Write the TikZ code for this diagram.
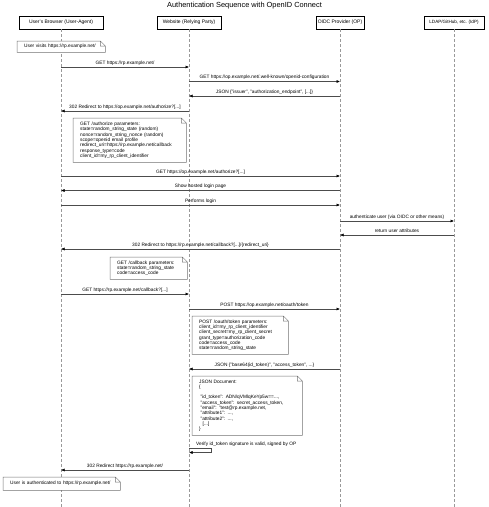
\documentclass[tikz,border=0pt]{standalone}
\usepackage{fontspec}
\setmainfont{Liberation Sans}
\usetikzlibrary{arrows.meta}
\tikzset{
  actor/.style={draw=black, line width=0.6pt, fill=white, font=\fontsize{5}{6}\selectfont, minimum height=13pt, inner sep=0pt},
  life/.style={draw=black!40, dash pattern=on 3pt off 2pt, line width=0.5pt},
  msg/.style={draw=black!70, line width=0.5pt, -{Latex[length=3.5pt,width=3pt,black]}},
  mlabel/.style={font=\fontsize{4.8}{5.3}\selectfont, anchor=base, inner sep=0pt},
  notebox/.style={anchor=north west, inner xsep=7pt, inner ysep=0pt, align=left, font=\fontsize{4.8}{5.3}\selectfont, fill=white},
  noteline/.style={draw=black!55, line width=0.5pt},
}
\newcommand\seqmsg[4]{\draw[msg] (#1 |- 0,#3) -- (#2 |- 0,#3) node[mlabel, midway, yshift=2.6pt] {#4};}
\begin{document}
\begin{tikzpicture}[x=1pt, y=-1pt]
\useasboundingbox[fill=white] (0,0) rectangle (489,507);
\node[font=\fontsize{7.4}{8}\selectfont] (title) at (244.5,5.5) {Authentication Sequence with OpenID Connect};

\coordinate (uaX) at (61,507);
\coordinate (rpX) at (189,507);
\coordinate (opX) at (340,507);
\coordinate (idpX) at (454,507);
\node[actor, minimum width=84pt] (ua) at (61,22.5) {User's Browser (User-Agent)};
\node[actor, minimum width=64pt] (rp) at (189,22.5) {Website (Relying Party)};
\node[actor, minimum width=48pt] (op) at (340,22.5) {OIDC Provider (OP)};
\node[actor, minimum width=60pt, font=\fontsize{4.6}{6}\selectfont] (idp) at (454,22.5) {LDAP/GitHub, etc. (IdP)};
\foreach \p in {ua,rp,op,idp} \draw[life] (\p.south) -- (\p X);

% notes
\node[notebox, text width=74pt, minimum height=11pt] (n1) at (17,41) {User visits https://rp.example.net/};
\node[notebox, text width=99pt, minimum height=44pt] (n2) at (73,118) {GET /authorize parameters:\\state=random\_string\_state (random)\\nonce=random\_string\_nonce (random)\\scope=openid email profile\\redirect\_uri=https://rp.example.net/callback\\response\_type=code\\client\_id=my\_rp\_client\_identifier};
\node[notebox, text width=63pt, minimum height=22pt] (n3) at (110,257) {GET /callback parameters:\\state=random\_string\_state\\code=access\_code};
\node[notebox, text width=82pt, minimum height=38pt] (n4) at (192,316) {POST /oauth/token parameters:\\client\_id=my\_rp\_client\_identifier\\client\_secret=my\_rp\_client\_secret\\grant\_type=authorization\_code\\code=access\_code\\state=random\_string\_state};
\node[notebox, text width=96pt, minimum height=59pt] (n5) at (192,376) {JSON Document:\\\{\\[5.3pt]\hspace{1.5pt}"id\_token": ADN/qVMlqKeYp5w==...,\\\hspace{1.5pt}"access\_token": secret\_access\_token,\\\hspace{1.5pt}"email": "test@rp.example.net,\\\hspace{1.5pt}"attribute1": ...,\\\hspace{1.5pt}"attribute2": ...,\\\hspace{3.5pt}[...]\\\}};
\node[notebox, text width=103pt, minimum height=13pt] (n6) at (3,477) {User is authenticated to https://rp.example.net/};
\foreach \n in {n1,n2,n3,n4,n5,n6}
  \draw[noteline] (\n.north west) -- ([xshift=-5pt]\n.north east) -- ([yshift=-5pt]\n.north east) -- (\n.south east) -- (\n.south west) -- cycle
    ([xshift=-5pt]\n.north east) -- ([xshift=-5pt,yshift=-5pt]\n.north east) -- ([yshift=-5pt]\n.north east);

% messages
\seqmsg{ua}{rp}{67}{GET https://rp.example.net/}
\seqmsg{rp}{op}{81.5}{GET https://op.example.net/.well-known/openid-configuration}
\seqmsg{op}{rp}{96}{JSON \{"issuer", "authorization\_endpoint", [...]\}}
\seqmsg{rp}{ua}{111}{302 Redirect to https://op.example.net/authorize?[...]}
\seqmsg{ua}{op}{176}{GET https://op.example.net/authorize?[...]}
\seqmsg{op}{ua}{190.5}{Show hosted login page}
\seqmsg{ua}{op}{205}{Performs login}
\seqmsg{op}{idp}{221}{authenticate user (via OIDC or other means)}
\seqmsg{idp}{op}{235}{return user attributes}
\seqmsg{op}{ua}{249}{302 Redirect to https://rp.example.net/callback?[...]/\{redirect\_uri\}}
\seqmsg{ua}{rp}{294}{GET https://rp.example.net/callback?[...]}
\seqmsg{rp}{op}{309}{POST https://op.example.net/oauth/token}
\seqmsg{op}{rp}{369}{JSON \{"base64(id\_token)", "access\_token", ...\}}
\draw[msg] (rp |- 0,448.5) -- ++(22,0) -- ++(0,4) -- (rp |- 0,452.5);
\node[mlabel, anchor=base west] (vlabel) at ([xshift=7pt]rp |- 0,445.5) {Verify id\_token signature is valid, signed by OP};
\seqmsg{rp}{ua}{470}{302 Redirect https://rp.example.net/}
\end{tikzpicture}
\end{document}
